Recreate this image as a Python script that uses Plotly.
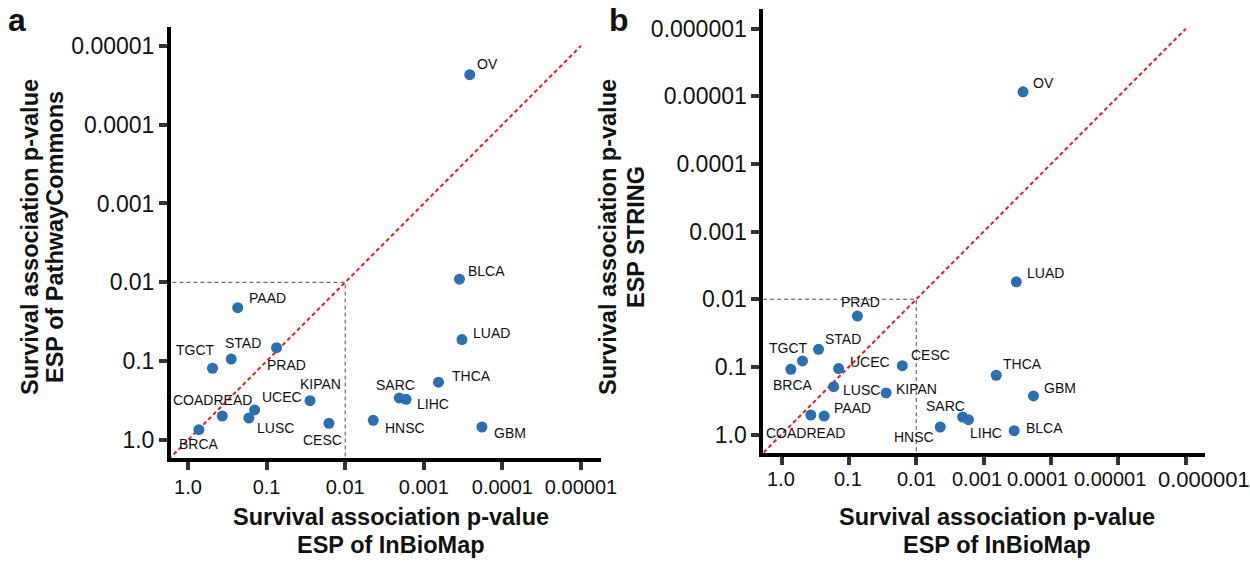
import math
import plotly.graph_objects as go

# ---------------- data ----------------
cancers = ["OV", "BLCA", "LUAD", "THCA", "SARC", "LIHC", "HNSC", "GBM", "CESC",
           "KIPAN", "UCEC", "LUSC", "COADREAD", "BRCA", "TGCT", "STAD", "PRAD", "PAAD"]
esp_inbiomap = [0.00026, 0.000352, 0.000327, 0.00065, 0.00205, 0.00168, 0.0044, 0.000182, 0.0161,
                0.028, 0.142, 0.168, 0.367, 0.727, 0.488, 0.282, 0.0747, 0.233]
esp_pathwaycommons = [2.33e-5, 0.00912, 0.0533, 0.185, 0.293, 0.305, 0.562, 0.684, 0.614,
                      0.317, 0.416, 0.526, 0.496, 0.74, 0.123, 0.094, 0.0674, 0.021]
esp_string = [8.55e-6, 0.879, 0.00553, 0.133, 0.551, 0.604, 0.775, 0.269, 0.096,
              0.243, 0.106, 0.196, 0.515, 0.1086, 0.0818, 0.055, 0.0177, 0.533]

ticks_a_x = ["1.0", "0.1", "0.01", "0.001", "0.0001", "0.00001"]
ticks_a_y = ["1.0", "0.1", "0.01", "0.001", "0.0001", "0.00001"]
ticks_b_x = ["1.0", "0.1", "0.01", "0.001", "0.0001", "0.00001", "0.000001"]
ticks_b_y = ["1.0", "0.1", "0.01", "0.001", "0.0001", "0.00001", "0.000001"]
threshold = 0.01

# label placement (anchor, dx px, dy px downwards)
lab_a = {"OV": ("left", 5, -11), "BLCA": ("left", 7, -8), "LUAD": ("left", 9, -7),
         "THCA": ("left", 11, -6), "SARC": ("center", -4, -13), "LIHC": ("left", 9, 5),
         "HNSC": ("left", 10, 8), "GBM": ("left", 10, 6), "CESC": ("center", -6, 17),
         "KIPAN": ("center", 10, -17), "UCEC": ("left", 5, -13), "LUSC": ("left", 6, 10),
         "COADREAD": ("center", -10, -16), "BRCA": ("center", 0, 14), "TGCT": ("center", -17, -18),
         "STAD": ("center", 12, -16), "PRAD": ("center", 10, 17), "PAAD": ("left", 9, -10)}
lab_b = {"OV": ("left", 8, -9), "BLCA": ("left", 10, -3), "LUAD": ("left", 9, -9),
         "THCA": ("left", 5, -11), "SARC": ("center", -17, -11), "LIHC": ("center", 18, 13),
         "HNSC": ("center", -26, 10), "GBM": ("left", 9, -8), "CESC": ("left", 7, -11),
         "KIPAN": ("left", 8, -4), "UCEC": ("left", 9, -7), "LUSC": ("left", 7, 3),
         "COADREAD": ("center", -5, 18), "BRCA": ("center", 2, 16), "TGCT": ("center", -14, -13),
         "STAD": ("left", 4, -10), "PRAD": ("center", 3, -14), "PAAD": ("left", 8, -8)}
# horizontal nudges (px) and sizes of panel-b x tick labels, as in the original figure
tickshift_b_x = [0, -1, 0, -7, -13, -8, 18]
ticksize_b_x = [20, 20, 20, 20, 20, 20, 22]

W, H = 1250, 563
FONT = "Liberation Sans, Arial, Helvetica, sans-serif"
DOT = "#2a6fb2"

fig = go.Figure()

def panel(xs, ys, xa, ya, labels, diag_end):
    fig.add_trace(go.Scatter(x=[10, diag_end], y=[10, diag_end], mode="lines",
                             line=dict(color="#f01818", width=2, dash="4px,3px"),
                             xaxis=xa, yaxis=ya, hoverinfo="skip", showlegend=False))
    fig.add_trace(go.Scatter(x=[10, threshold, threshold], y=[threshold, threshold, 10],
                             mode="lines", line=dict(color="#4a4a4a", width=1, dash="4px,3px"),
                             xaxis=xa, yaxis=ya, hoverinfo="skip", showlegend=False))
    fig.add_trace(go.Scatter(x=xs, y=ys, mode="markers",
                             marker=dict(size=11, color=DOT, line=dict(width=0)),
                             xaxis=xa, yaxis=ya, text=cancers, showlegend=False))
    ref_x = "x" if xa == "x" else "x2"
    ref_y = "y" if ya == "y" else "y2"
    for name, xv, yv in zip(cancers, xs, ys):
        anc, dx, dy = labels[name]
        fig.add_annotation(x=math.log10(xv), y=math.log10(yv), xref=ref_x, yref=ref_y,
                           text=name, showarrow=False, xanchor=anc, yanchor="middle",
                           xshift=dx, yshift=-dy, font=dict(family=FONT, size=14, color="#111"))

panel(esp_inbiomap, esp_pathwaycommons, "x", "y", lab_a, 1e-5)
panel(esp_inbiomap, esp_string, "x2", "y2", lab_b, 1e-6)

def axis(domain, rng, ticktext, fs, anchor, showlabels=True):
    vals = [10 ** (-i) for i in range(len(ticktext))]
    return dict(type="log", domain=domain, range=rng, tickvals=vals, ticktext=ticktext,
                anchor=anchor, automargin=False, tickangle=0, showticklabels=showlabels,
                showgrid=False, zeroline=False, showline=True, linewidth=4, linecolor="#000",
                ticks="outside", ticklen=8, tickwidth=4, tickcolor="#333",
                tickfont=dict(family=FONT, size=fs, color="#111"))

fig.update_layout(
    template="none",
    width=W, height=H, margin=dict(l=0, r=0, t=0, b=0, autoexpand=False),
    paper_bgcolor="white", plot_bgcolor="white", showlegend=False,
    xaxis=axis([171 / W, 601 / W], [0.2163, -5.2545], ticks_a_x, 20, "y"),
    yaxis=axis([1 - 457.5 / H, 1 - 27 / H], [0.2219, -5.238], ticks_a_y, 23, "x"),
    xaxis2=axis([763.4 / W, 1204.6 / W], [0.2687, -6.280], ticks_b_x, 20, "y2", showlabels=False),
    yaxis2=axis([1 - 453.3 / H, 1 - 9 / H], [0.278, -6.292], ticks_b_y, 23, "x2"),
)

# panel-b x tick labels (placed individually to avoid collisions, like the original)
for i, (txt, sh, fs) in enumerate(zip(ticks_b_x, tickshift_b_x, ticksize_b_x)):
    fig.add_annotation(x=math.log10(10 ** (-i)), y=1 - 479 / H, xref="x2", yref="paper",
                       text=txt, showarrow=False, xanchor="center", yanchor="middle",
                       xshift=sh, font=dict(family=FONT, size=fs, color="#111"))

def ptext(text, x, y, size, angle=0, bold=True):
    fig.add_annotation(x=x / W, y=1 - y / H, xref="paper", yref="paper",
                       text=f"<b>{text}</b>" if bold else text,
                       showarrow=False, xanchor="center", yanchor="middle", textangle=angle,
                       font=dict(family=FONT, size=size, color="#111"))

TS = 23.5
# axis titles
ptext("Survival association p-value", 391, 517, TS)
ptext("ESP of InBioMap", 391, 545, TS)
ptext("Survival association p-value", 30, 237, TS, -90)
ptext("ESP of PathwayCommons", 55, 237, TS, -90)
ptext("Survival association p-value", 997, 517, TS)
ptext("ESP of InBioMap", 997, 545, TS)
ptext("Survival association p-value", 608, 237, TS, -90)
ptext("ESP STRING", 636, 237, TS, -90)
# panel letters
ptext("a", 17, 20, 32)
ptext("b", 619, 20, 32)

fig.write_html("out.html")
